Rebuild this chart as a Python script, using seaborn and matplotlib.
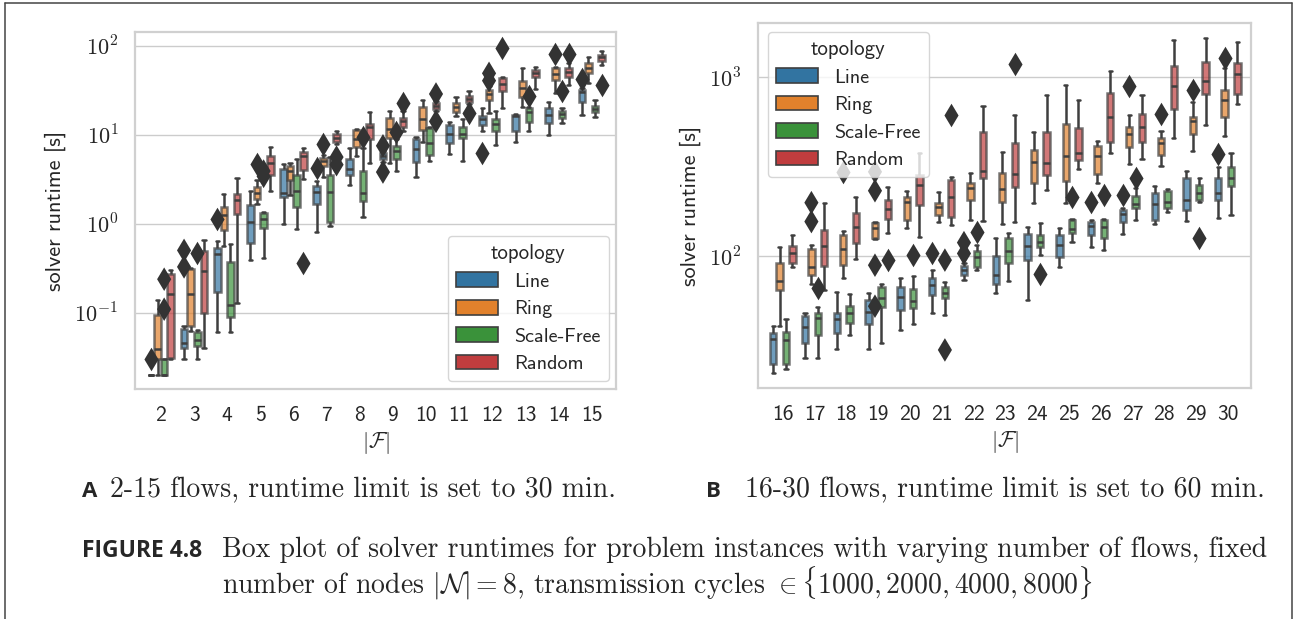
import numpy as np
import pandas as pd
import matplotlib
matplotlib.use("Agg")
import matplotlib.pyplot as plt
from matplotlib.patches import Patch
from matplotlib.lines import Line2D
from matplotlib.ticker import FuncFormatter, NullFormatter
import seaborn as sns

W, H = 1301, 619

topologies = ["Line", "Ring", "Scale-Free", "Random"]
flows_a = list(range(2, 16))
flows_b = list(range(16, 31))

# each box: [lower whisker, q1, median, q3, upper whisker], one per |F|
line_a = [[0.02, 0.02, 0.02, 0.02, 0.02], [0.030, 0.040, 0.045, 0.066, 0.071],
          [0.060, 0.168, 0.46, 0.537, 0.64], [0.39, 0.61, 1.05, 1.63, 2.33],
          [0.98, 2.0, 2.23, 4.15, 4.7], [0.81, 1.66, 2.24, 2.67, 2.98],
          [2.74, 3.55, 4.07, 5.32, 7.08], [4.9, 5.3, 5.7, 6.2, 6.6],
          [3.37, 4.9, 6.9, 8.9, 9.5], [6.06, 8.0, 10.3, 13.0, 13.8],
          [11.1, 13.0, 15.0, 16.4, 20.0], [8.2, 11.1, 16.4, 16.8, 17.1],
          [10.0, 13.4, 16.8, 20.0, 23.1], [16.8, 23.1, 30.0, 31.8, 33.5]]
ring_a = [[0.02, 0.03, 0.039, 0.093, 0.139], [0.062, 0.071, 0.163, 0.312, 0.32],
          [0.56, 0.84, 1.24, 1.54, 2.17], [1.68, 1.90, 2.23, 2.6, 3.1],
          [2.08, 3.07, 3.9, 4.45, 4.85], [3.31, 4.48, 5.0, 5.42, 5.96],
          [5.8, 7.2, 8.9, 11.3, 11.6], [4.75, 9.2, 11.6, 15.4, 18.3],
          [8.2, 11.3, 15.0, 20.7, 24.5], [16.4, 18.2, 20.7, 22.5, 26.8],
          [17.4, 24.5, 28.7, 31.8, 35.6], [20.7, 26.3, 33.5, 40.5, 56.2],
          [29.2, 41.2, 48.2, 56.2, 57.3], [37.8, 49.0, 56.2, 63.5, 75.5]]
free_a = [[0.02, 0.02, 0.02, 0.03, 0.03], [0.03, 0.042, 0.049, 0.06, 0.063],
          [0.06, 0.088, 0.121, 0.374, 0.586], [0.41, 0.90, 1.12, 1.33, 1.35],
          [0.86, 1.54, 2.33, 3.49, 5.28], [0.95, 1.05, 2.28, 3.55, 5.65],
          [1.19, 1.78, 2.2, 3.94, 7.08], [3.86, 5.3, 6.5, 7.5, 9.0],
          [5.1, 5.96, 8.0, 11.9, 12.1], [5.0, 9.1, 10.3, 12.1, 15.0],
          [7.7, 11.1, 13.2, 15.0, 18.6], [10.9, 13.8, 18.2, 20.0, 20.7],
          [13.4, 15.4, 17.1, 18.6, 20.0], [16.0, 17.8, 19.5, 21.2, 24.5]]
rand_a = [[0.03, 0.031, 0.163, 0.27, 0.299], [0.040, 0.10, 0.294, 0.493, 0.65],
          [0.127, 1.29, 1.85, 2.14, 3.23], [2.3, 3.5, 4.77, 5.8, 7.3],
          [3.15, 3.98, 5.76, 6.44, 7.14], [7.86, 8.2, 9.2, 10.2, 10.9],
          [4.75, 8.9, 12.1, 13.2, 17.8], [10.9, 12.1, 14.1, 15.4, 18.6],
          [18.6, 19.5, 21.2, 22.5, 23.7], [22.1, 23.5, 25.2, 27.5, 30.8],
          [20.0, 31.3, 37.2, 43.4, 45.0], [32.7, 45.0, 49.0, 53.5, 58.2],
          [36.5, 44.2, 50.3, 56.2, 63.5], [61.4, 67.0, 75.5, 79.4, 88.3]]

line_b = [[22.3, 25.1, 34.4, 37.0, 40.6], [26.8, 32.8, 40.3, 46.2, 48.2],
          [30.1, 37.0, 44.5, 47.9, 63.1], [30.1, 42.0, 48.9, 56.8, 62.4],
          [38.6, 49.9, 58.8, 67.4, 75.0], [48.2, 60.5, 68.9, 75.0, 84.1],
          [73.4, 78.3, 83.5, 88.0, 91.8], [62.4, 70.3, 78.3, 100, 126],
          [56.8, 95.7, 113.7, 133, 145], [87.1, 99, 116, 132, 143],
          [113, 131, 148, 156, 159], [133, 156, 173, 181, 185],
          [151, 159, 195, 224, 246], [157, 182, 206, 272, 299],
          [164, 207, 226, 272, 316]]
ring_b = [[40.6, 64.6, 72.8, 91, 113], [70.3, 78.3, 86.4, 109, 115],
          [75, 89, 110, 132, 138], [124, 126, 143, 153, 155],
          [143, 160, 201, 214, 232], [156, 169, 189, 199, 229],
          [159, 207, 239, 257, 290], [151, 201, 236, 292, 381],
          [199, 255, 336, 394, 495], [197, 264, 362, 545, 910],
          [257, 287, 362, 412, 441], [326, 408, 479, 524, 618],
          [318, 367, 430, 460, 501], [387, 484, 570, 596, 728],
          [468, 596, 745, 853, 1132]]
free_b = [[23.4, 25.1, 34.0, 37.8, 44.5], [26.8, 36.2, 45.2, 48.2, 52.0],
          [36.2, 42.5, 48.2, 52.6, 61.3], [32.5, 52.1, 58.0, 67.4, 70.3],
          [41.7, 51.0, 56.3, 65.2, 77.2], [46.8, 58.0, 62.4, 67.4, 71.9],
          [84.1, 87.1, 99, 107, 115], [72.8, 91, 107, 126, 134],
          [101, 113, 120, 131, 153], [120, 134, 141, 160, 162],
          [108, 127, 145, 160, 162], [159, 185, 195, 217, 239],
          [177, 185, 201, 232, 236], [201, 206, 224, 249, 274],
          [169, 246, 275, 316, 378]]
rand_b = [[87, 91.8, 103.5, 113.7, 131], [65, 88, 113.7, 140, 197],
          [97, 119, 146, 175, 213], [134, 162, 184, 206, 244],
          [128, 193, 249, 284, 378], [149, 166, 213, 268, 277],
          [157, 275, 300, 495, 689], [156, 242, 287, 430, 614],
          [234, 284, 330, 495, 794], [305, 344, 375, 517, 750],
          [378, 435, 596, 817, 1085], [351, 435, 528, 626, 794],
          [460, 668, 891, 1152, 1622], [539, 803, 955, 1218, 1667],
          [706, 803, 1040, 1203, 1574]]

# outliers, keyed by |F|
out_line_a = {2: [0.03], 3: [0.50, 0.326], 4: [1.12], 7: [4.2], 9: [7.5, 3.8],
              12: [6.3], 15: [42.4]}
out_ring_a = {5: [4.7], 7: [7.9], 12: [49, 40.5], 14: [81]}
out_free_a = {2: [0.237, 0.109], 3: [0.47], 5: [3.9, 3.4], 8: [9.5], 9: [10.8],
              13: [27.5], 14: [31.3]}
out_rand_a = {6: [0.365], 7: [5.6, 4.6], 9: [22.5], 10: [28.7, 14.1], 11: [17.4],
              12: [94.6], 14: [81], 15: [36.5]}

out_line_b = {21: [103.5], 22: [119, 103.5], 26: [201], 27: [219], 30: [371]}
out_ring_b = {17: [199, 156], 18: [296], 19: [296, 232, 89, 52.5], 27: [891],
              28: [626], 29: [853], 30: [1288]}
out_free_b = {17: [66], 20: [101], 21: [95, 29.9], 22: [137], 24: [79.3],
              25: [214], 26: [219], 27: [272], 29: [126]}
out_rand_b = {19: [95.7], 21: [614], 23: [1182]}

sns.set_theme(style="whitegrid")
plt.rcParams["font.family"] = ["cmss10", "DejaVu Sans"]
plt.rcParams["mathtext.fontset"] = "cm"
plt.rcParams["axes.unicode_minus"] = False

colors = [sns.desaturate(c, 0.75) for c in sns.color_palette("tab10", 4)]


def frames(flows, boxes, outs):
    rows, fl = [], []
    for topo, stats in zip(topologies, boxes):
        for f, five in zip(flows, stats):
            rows += [(str(f), topo, v) for v in five]
    for topo, d in zip(topologies, outs):
        for f, vals in d.items():
            fl += [(str(f), topo, v) for v in vals]
    cols = ["flows", "topology", "runtime"]
    return pd.DataFrame(rows, columns=cols), pd.DataFrame(fl, columns=cols)


def draw(ax, flows, boxes, outs, ylim, legend_kw):
    box_df, out_df = frames(flows, boxes, outs)
    order = [str(f) for f in flows]
    sns.boxplot(data=box_df, x="flows", y="runtime", hue="topology", order=order,
                hue_order=topologies, palette="tab10", saturation=0.75,
                whis=(0, 100), width=0.8, linewidth=1.8, linecolor="#3f3f3f",
                log_scale=True, legend=False, ax=ax)
    for p in ax.patches:
        p.set_alpha(0.7)
    sns.stripplot(data=out_df, x="flows", y="runtime", hue="topology", order=order,
                  hue_order=topologies, palette={t: "#333333" for t in topologies},
                  dodge=True, jitter=False, marker="d", size=12, linewidth=0,
                  legend=False, ax=ax)
    ax.set_xlim(-0.78, len(flows) - 1 + 0.73)
    ax.set_ylim(*ylim)
    ax.yaxis.set_major_formatter(FuncFormatter(
        lambda v, p: r"$10^{%d}$" % int(round(np.log10(v)))))
    ax.yaxis.set_minor_formatter(NullFormatter())
    ax.tick_params(axis="x", labelsize=15.5, pad=6)
    ax.tick_params(axis="y", labelsize=16, pad=6)
    ax.set_xlabel(r"$|\mathcal{F}|$", fontsize=16, labelpad=4)
    ax.set_ylabel("solver runtime [s]", fontsize=16, labelpad=6)
    for s in ax.spines.values():
        s.set_color("#d0d0d0")
        s.set_linewidth(1.6)
    handles = [Patch(facecolor=c, edgecolor="#3f3f3f", linewidth=1.2) for c in colors]
    ax.legend(handles, topologies, title="topology", fontsize=14.5,
              title_fontsize=15, handlelength=2.1, handleheight=0.75,
              labelspacing=0.45, borderaxespad=0, framealpha=0.8, **legend_kw)


fig = plt.figure(figsize=(W / 100, H / 100), dpi=100)
ax1 = fig.add_axes([135 / W, 1 - 389 / H, 481 / W, 357 / H])
ax2 = fig.add_axes([758 / W, 1 - 388 / H, 493 / W, 365 / H])

draw(ax1, flows_a, [line_a, ring_a, free_a, rand_a],
     [out_line_a, out_ring_a, out_free_a, out_rand_a],
     (10 ** -1.86, 10 ** 2.155),
     dict(loc="lower right", bbox_to_anchor=(0.985, 0.022)))
draw(ax2, flows_b, [line_b, ring_b, free_b, rand_b],
     [out_line_b, out_ring_b, out_free_b, out_rand_b],
     (10 ** 1.263, 10 ** 3.303),
     dict(loc="upper left", bbox_to_anchor=(0.02, 0.975)))

bold = ["Open Sans", "DejaVu Sans"]
serif = ["cmr10", "DejaVu Serif"]
fig.text(82 / W, 1 - 497 / H, "A", family=bold, weight="bold", fontsize=16, va="baseline")
fig.text(110 / W, 1 - 497 / H, "2-15 flows, runtime limit is set to 30 min.",
         family=serif, fontsize=20, va="baseline")
fig.text(706 / W, 1 - 497 / H, "B", family=bold, weight="bold", fontsize=16, va="baseline")
fig.text(745 / W, 1 - 497 / H, "16-30 flows, runtime limit is set to 60 min.",
         family=serif, fontsize=20, va="baseline")
fig.text(82 / W, 1 - 557 / H, "FIGURE 4.8", family=bold, weight="bold",
         fontsize=16.5, va="baseline")
fig.text(222 / W, 1 - 557 / H,
         "Box plot of solver runtimes for problem instances with varying number of flows, fixed",
         family=serif, fontsize=20, va="baseline")
fig.text(222 / W, 1 - 593 / H,
         r"number of nodes $|\mathcal{N}| = 8$, transmission cycles $\in\{1000, 2000, 4000, 8000\}$",
         family=serif, fontsize=20, va="baseline")

frame = dict(color="#444444", linewidth=1.1, transform=fig.transFigure)
fig.add_artist(Line2D([5 / W, 5 / W], [0, 1 - 2.5 / H], **frame))
fig.add_artist(Line2D([5 / W, 1292 / W], [1 - 2.5 / H, 1 - 2.5 / H], **frame))
fig.add_artist(Line2D([1292 / W, 1292 / W], [0, 1 - 2.5 / H], **frame))

fig.savefig("out.png", dpi=100)
